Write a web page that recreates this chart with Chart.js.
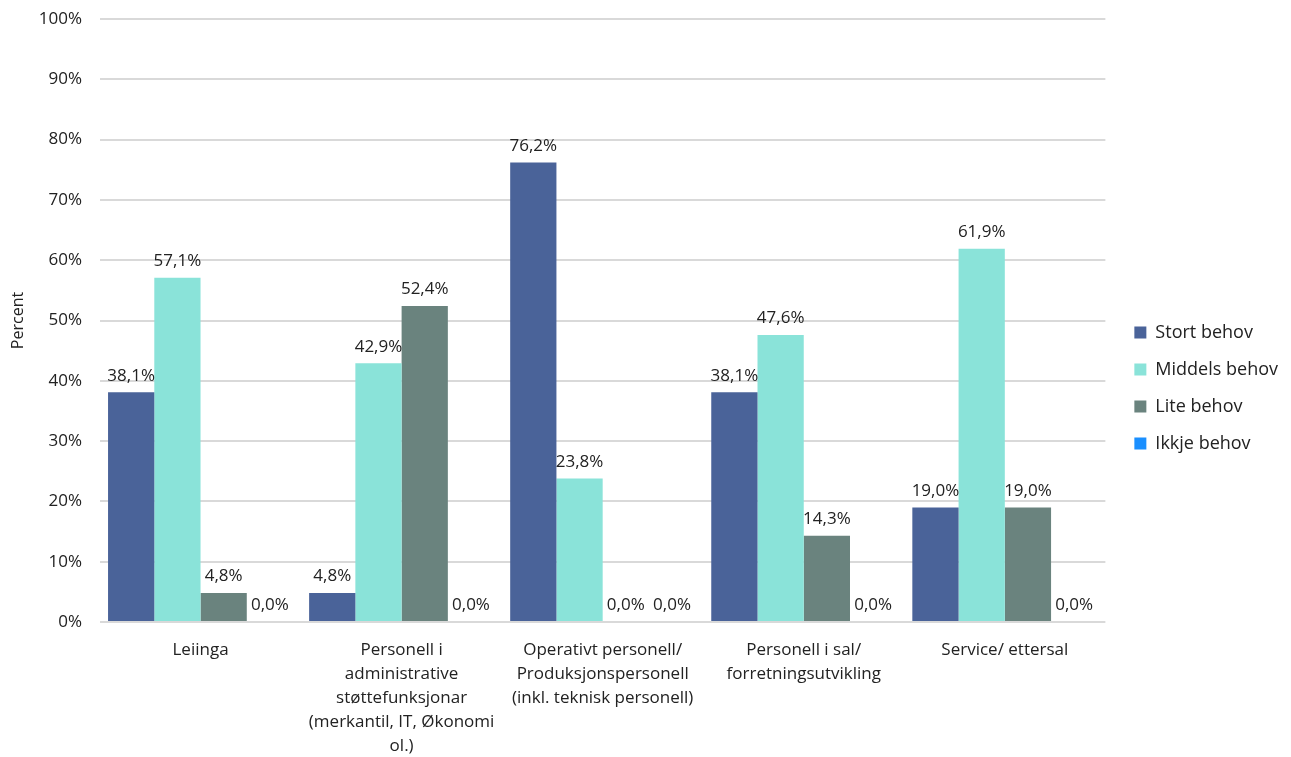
<!DOCTYPE html>
<html lang="nn">
  <head>
    <meta charset="UTF-8" />
    <title>Behov for kompetanse</title>
    <script src="https://cdn.jsdelivr.net/npm/chart.js"></script>
    <style>
      body {
        margin: 0;
        background-color: #fff;
      }
      #wrap {
        width: 1291px;
        height: 757px;
        position: relative;
      }
    </style>
  </head>
  <body>
    <div id="wrap"><canvas id="chart"></canvas></div>
    <script>
      const categories = [
        "Leiinga",
        ["Personell i", "administrative", "støttefunksjonar", "(merkantil, IT, Økonomi", "ol.)"],
        ["Operativt personell/", "Produksjonspersonell", "(inkl. teknisk personell)"],
        ["Personell i sal/", "forretningsutvikling"],
        "Service/ ettersal"
      ];
      const seriesNames = ["Stort behov", "Middels behov", "Lite behov", "Ikkje behov"];
      const stortBehov = [38.1, 4.8, 76.2, 38.1, 19.0];
      const middelsBehov = [57.1, 42.9, 23.8, 47.6, 61.9];
      const liteBehov = [4.8, 52.4, 0.0, 14.3, 19.0];
      const ikkjeBehov = [0.0, 0.0, 0.0, 0.0, 0.0];
      const yTicks = [0, 10, 20, 30, 40, 50, 60, 70, 80, 90, 100];

      const colors = ["#4a6399", "#8ae3d9", "#6a837e", "#1a8fff"];
      const fontFamily = "'Open Sans', sans-serif";

      // writes the value above each bar
      const valueLabels = {
        id: "valueLabels",
        afterDatasetsDraw(chart) {
          const ctx = chart.ctx;
          ctx.save();
          ctx.font = "17px " + fontFamily;
          ctx.fillStyle = "#222";
          ctx.textAlign = "center";
          ctx.textBaseline = "bottom";
          chart.data.datasets.forEach((ds, i) => {
            chart.getDatasetMeta(i).data.forEach((bar, j) => {
              const txt = ds.data[j].toFixed(1).replace(".", ",") + "%";
              ctx.fillText(txt, bar.x, bar.y - 8);
            });
          });
          ctx.restore();
        }
      };

      // push the legend a bit further from the plot
      const legendShift = {
        id: "legendShift",
        afterLayout(chart) {
          chart.legend.left += 10;
          chart.legend.right += 10;
        }
      };

      const values = [stortBehov, middelsBehov, liteBehov, ikkjeBehov];

      new Chart(document.getElementById("chart"), {
        type: "bar",
        data: {
          labels: categories,
          datasets: seriesNames.map((name, i) => ({
            label: name,
            data: values[i],
            backgroundColor: colors[i],
            borderWidth: 0,
            categoryPercentage: 0.92,
            barPercentage: 1.0
          }))
        },
        plugins: [valueLabels, legendShift],
        options: {
          responsive: true,
          maintainAspectRatio: false,
          animation: false,
          layout: { padding: { top: 19, right: 13, left: 0, bottom: 0 } },
          plugins: {
            tooltip: { enabled: false },
            legend: {
              position: "right",
              labels: {
                boxWidth: 12,
                boxHeight: 12,
                padding: 19,
                color: "#222",
                font: { family: fontFamily, size: 18 }
              }
            }
          },
          scales: {
            x: {
              grid: { display: false },
              border: { display: false },
              ticks: {
                color: "#222",
                font: { family: fontFamily, size: 17, lineHeight: 1.42 },
                maxRotation: 0,
                autoSkip: false,
                padding: 8
              },
              afterFit(scale) {
                scale.height = 135;
              }
            },
            y: {
              min: 0,
              max: 100,
              afterBuildTicks(scale) {
                scale.ticks = yTicks.map((v) => ({ value: v }));
              },
              grid: {
                color: "#d9d9d9",
                lineWidth: 2,
                drawTicks: true,
                tickLength: 18,
                tickColor: "rgba(0,0,0,0)"
              },
              border: { display: false },
              title: {
                display: true,
                text: "Percent",
                color: "#222",
                font: { family: fontFamily, size: 16 },
                padding: { top: 9, bottom: 0 }
              },
              ticks: {
                color: "#222",
                font: { family: fontFamily, size: 17 },
                padding: 0,
                callback: (v) => v + "%"
              },
              afterFit(scale) {
                scale.width = 100;
              }
            }
          }
        }
      });
    </script>
  </body>
</html>
